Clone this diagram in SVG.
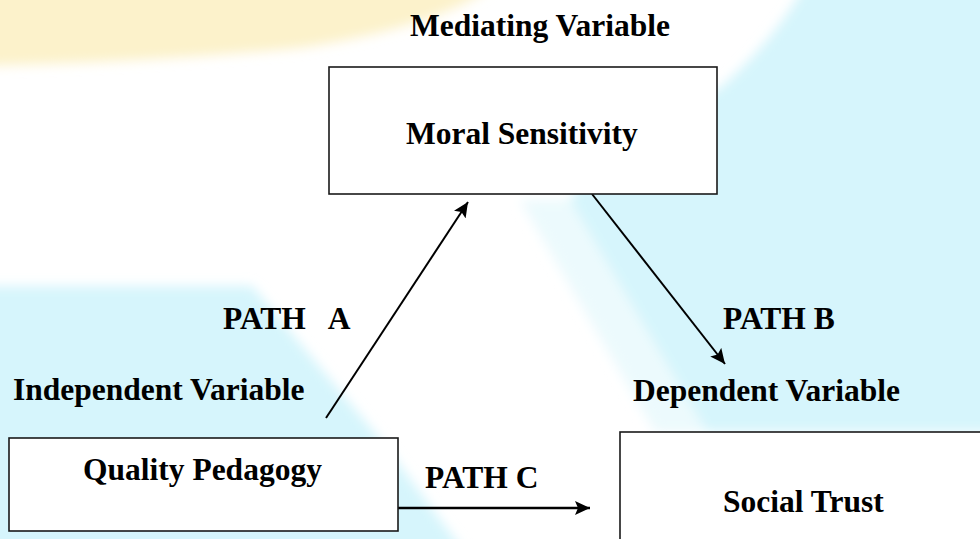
<svg xmlns="http://www.w3.org/2000/svg" width="980" height="539" viewBox="0 0 980 539">
<style>
.lbl{font-family:"Liberation Serif","Times New Roman",serif;font-weight:bold;font-size:31.5px;fill:#000;white-space:pre}
.box{fill:#fff;stroke:#1a1a1a;stroke-width:1.6}
.conn{stroke:#000;stroke-width:2;fill:none;marker-end:url(#ah)}
</style>
<defs>
<filter id="soft" x="-10%" y="-10%" width="120%" height="120%"><feGaussianBlur stdDeviation="6"/></filter>
<marker id="ah" markerUnits="userSpaceOnUse" markerWidth="17" markerHeight="14" refX="15" refY="7" orient="auto"><path d="M0,0 L15,7 L0,14 L3,7 Z" fill="#000"/></marker>
</defs>
<rect width="980" height="539" fill="#fff"/>
<g id="background" filter="url(#soft)">
<path d="M-20,-20 L500,-20 Q450,25 300,48 Q150,62 -20,66 Z" fill="#fcf2cb"/>
<path d="M520,200 L570,200 L707,432 L655,432 Z" fill="#ecfafd"/>
<path d="M808,-20 L1000,-20 L1000,432 L707,432 L570,200 L600,150 L720,88 Q775,40 808,-20 Z" fill="#d6f5fc"/>
<path d="M-20,286 L252,286 L384,444 L470,560 L-20,560 Z" fill="#d6f5fc"/>
</g>
<g id="connectors">
<line class="conn" x1="326" y1="418" x2="468" y2="202"/>
<line class="conn" x1="592" y1="194" x2="725" y2="364"/>
<line class="conn" x1="398" y1="508" x2="590" y2="508" style="stroke-width:2.5"/>
</g>
<g id="mediating">
<text class="lbl" x="410" y="36">Mediating Variable</text>
<rect class="box" x="329" y="67" width="388" height="127"/>
<text class="lbl" x="406" y="144">Moral Sensitivity</text>
</g>
<g id="independent">
<text class="lbl" x="13" y="400">Independent Variable</text>
<rect class="box" x="9" y="438" width="389" height="93"/>
<text class="lbl" x="83" y="480">Quality Pedagogy</text>
</g>
<g id="dependent">
<text class="lbl" x="633" y="401">Dependent Variable</text>
<rect class="box" x="620" y="432" width="380" height="130"/>
<text class="lbl" x="723" y="512">Social Trust</text>
</g>
<g id="path-labels">
<text class="lbl" x="223" y="329" xml:space="preserve">PATH   A</text>
<text class="lbl" x="723" y="329">PATH B</text>
<text class="lbl" x="425" y="488">PATH C</text>
</g>
</svg>
